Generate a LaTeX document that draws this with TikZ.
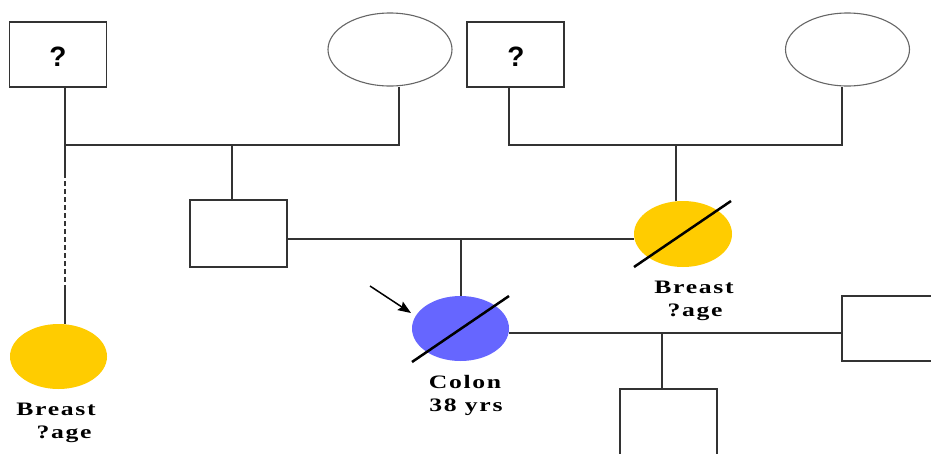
\documentclass[tikz,border=0pt]{standalone}
\usepackage{fontspec}
\setmainfont{Liberation Serif}
\newfontfamily\qfont{Liberation Sans}
\newfontfamily\lblfont{Liberation Serif}[FakeStretch=1.35,LetterSpace=9]
\usetikzlibrary{shapes.geometric,arrows.meta}
\definecolor{pyellow}{HTML}{FFCC00}
\definecolor{pblue}{HTML}{6666FF}
\definecolor{lgrey}{HTML}{333333}
\begin{document}
\begin{tikzpicture}[x=1pt,y=-1pt,
  line/.style={draw=lgrey, line width=1.3pt},
  male/.style={rectangle, draw=lgrey, line width=1.3pt, minimum width=97pt, minimum height=65pt, inner sep=0pt},
  female/.style={ellipse, draw=black!60, line width=1.1pt, minimum width=124pt, minimum height=73pt, inner sep=0pt},
  affected/.style={ellipse, minimum width=97pt, minimum height=65pt, inner sep=0pt},
  slash/.style={line width=2.5pt, black},
  qmark/.style={font=\qfont\bfseries\fontsize{28}{30}\selectfont, inner sep=0pt},
  lbl/.style={font=\lblfont\bfseries\fontsize{19}{22}\selectfont, inner sep=0pt, anchor=base}
]
\clip (0,0) rectangle (931,453);
\fill[white] (0,0) rectangle (931,453);

% generation I
\node[male] (sq1) at (58,54.5) {};
\node[qmark] (q1) at (58,57) {?};
\node[female] (f1) at (390,49.5) {};
\node[male] (sq2) at (515.5,54.5) {};
\node[qmark] (q2) at (516,57) {?};
\node[female] (f2) at (847.5,49.5) {};

% generation II
\node[male, minimum height=67pt] (ms) at (238.5,233.5) {};
\node[affected, fill=pyellow, minimum width=98pt, minimum height=66pt] (yr) at (683,234) {};
\node[affected, fill=pyellow] (yl) at (58.5,356.5) {};

% generation III
\node[affected, fill=pblue] (b) at (460.5,328.5) {};
\node[male] (rs) at (890.5,328.5) {};
\node[male, minimum height=67pt] (bs) at (668.5,422.5) {};

% left couple
\coordinate (m1) at (65,145);
\coordinate (m2) at (399,145);
\coordinate (c1) at (232,145);
\draw[line] (sq1.south -| m1) -- (m1) -- (m2) -- (f1.south -| m2);
\draw[line] (c1) -- (ms.north -| c1);
\coordinate (d1) at (65,173);
\coordinate (d2) at (65,287);
\draw[line] (m1) -- (d1);
\draw[line, dash pattern=on 5pt off 3pt] (d1) -- (d2);
\draw[line] (d2) -- (yl.north -| d2);

% right couple
\coordinate (n1) at (509,145);
\coordinate (n2) at (842,145);
\coordinate (c2) at (676,145);
\draw[line] (sq2.south -| n1) -- (n1) -- (n2) -- (f2.south -| n2);
\draw[line] (c2) -- (yr.north -| c2);

% marriage gen II
\coordinate (mm) at (461,239);
\draw[line] (ms.east |- mm) -- (yr.west |- mm);
\draw[line] (mm) -- (b.north -| mm);

% marriage gen III
\coordinate (mb) at (662,333);
\draw[line] (b.east |- mb) -- (rs.west |- mb);
\draw[line] (mb) -- (bs.north -| mb);

% slashes
\coordinate (s1a) at (634,267);
\coordinate (s1b) at (731,201);
\draw[slash] (s1a) -- (s1b);
\coordinate (s2a) at (412,362);
\coordinate (s2b) at (509,296);
\draw[slash] (s2a) -- (s2b);

% proband arrow
\coordinate (pa) at (370,286);
\coordinate (pb) at (411,313);
\draw[line width=1.5pt, black, -{Stealth[length=13pt,width=10pt,inset=2pt]}] (pa) -- (pb);

% labels
\node[lbl] (t1) at (56,415) {Breast};
\node[lbl] (t2) at (64,438) {?age};
\node[lbl] (t3) at (465,388) {Colon};
\node[lbl] (t4) at (466,411) {38 yrs};
\node[lbl] (t5) at (694,293) {Breast};
\node[lbl] (t6) at (695,316) {?age};
\end{tikzpicture}
\end{document}
